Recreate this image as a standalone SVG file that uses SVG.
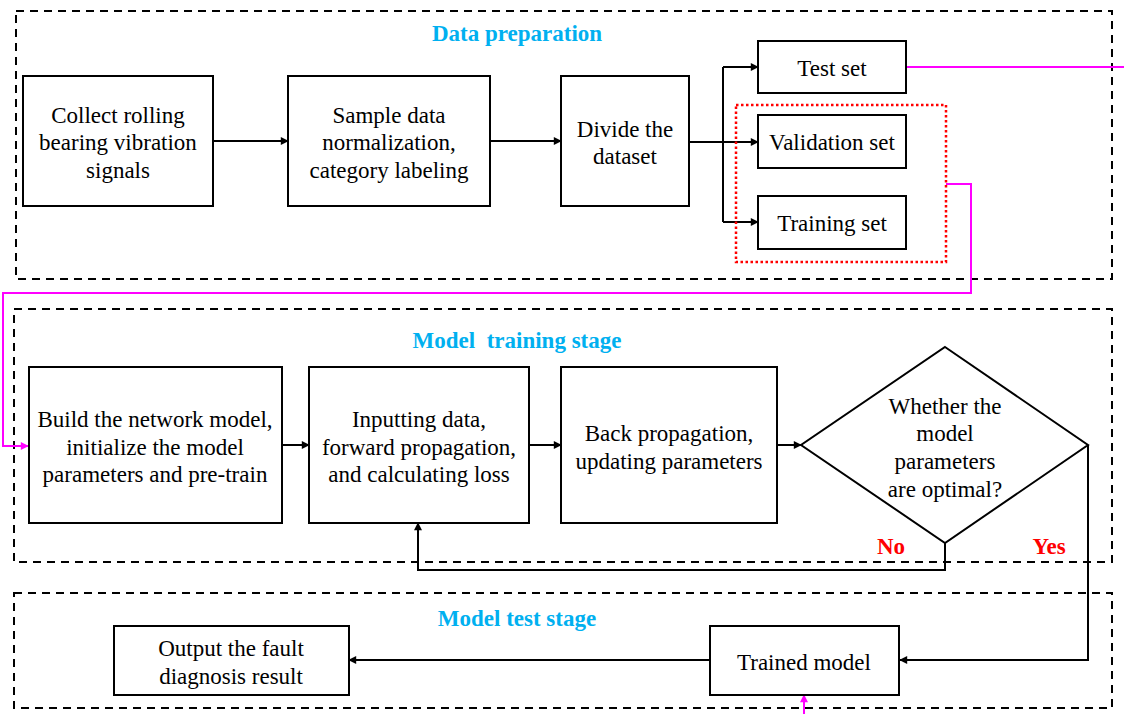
<svg xmlns="http://www.w3.org/2000/svg" width="1124" height="714" viewBox="0 0 1124 714">
<defs>
<marker id="ab" viewBox="0 0 10 10" refX="9" refY="5" markerWidth="9" markerHeight="8" orient="auto" markerUnits="userSpaceOnUse"><path d="M0,0 L10,5 L0,10 z" fill="#000"/></marker>
<marker id="am" viewBox="0 0 10 10" refX="9" refY="5" markerWidth="9" markerHeight="8" orient="auto" markerUnits="userSpaceOnUse"><path d="M0,0 L10,5 L0,10 z" fill="#ff00ff"/></marker>
</defs>
<style>
.stage{fill:none;stroke:#000;stroke-width:2;stroke-dasharray:8 6}
.box{fill:#fff;stroke:#000;stroke-width:2}
text{font-family:'Liberation Serif','Times New Roman',serif;font-size:23px;text-anchor:middle}
.t{fill:#000}
.title{font-weight:bold;fill:#00b0f0}
.lbl{font-weight:bold;fill:#ff0000}
.c{fill:none;stroke:#000;stroke-width:2}
.m{fill:none;stroke:#ff00ff;stroke-width:2}
</style>
<rect width="1124" height="714" fill="#fff"/>
<g id="stages">
<rect class="stage" x="16" y="11" width="1096" height="268"/>
<rect class="stage" x="14" y="309" width="1098" height="253"/>
<rect class="stage" x="14" y="593" width="1098" height="115"/>
<text class="title" x="517" y="41">Data preparation</text>
<text class="title" x="517" y="348" xml:space="preserve">Model  training stage</text>
<text class="title" x="517" y="626">Model test stage</text>
</g>
<g id="connectors">
<path class="c" d="M213,141 H288" marker-end="url(#ab)"/>
<path class="c" d="M490,141 H561" marker-end="url(#ab)"/>
<path class="c" d="M689,142 H758" marker-end="url(#ab)"/>
<path class="c" d="M723,67 V222"/>
<path class="c" d="M723,67 H758" marker-end="url(#ab)"/>
<path class="c" d="M723,222 H758" marker-end="url(#ab)"/>
<path class="m" d="M906,67 H1124"/>
<path class="m" d="M946,184 H971 V293 H3 V446 H28" marker-end="url(#am)"/>
<path class="c" d="M282,445 H309" marker-end="url(#ab)"/>
<path class="c" d="M529,445 H561" marker-end="url(#ab)"/>
<path class="c" d="M777,445 H801" marker-end="url(#ab)"/>
<path class="c" d="M945,543 V570 H418 V523" marker-end="url(#ab)"/>
<path class="c" d="M1088,445 V660 H900" marker-end="url(#ab)"/>
<path class="c" d="M710,660 H349" marker-end="url(#ab)"/>
<path class="m" d="M804,714 V695" marker-end="url(#am)"/>
<text class="lbl" x="891" y="554">No</text>
<text class="lbl" x="1049" y="554">Yes</text>
</g>
<g id="split-group">
<rect x="736" y="105" width="210" height="157" fill="none" stroke="#ff0000" stroke-width="2.5" stroke-dasharray="2.5 2.5"/>
</g>
<g id="collect">
<rect class="box" x="23" y="76" width="190" height="130"/>
<text class="t" x="118" y="123">Collect rolling</text>
<text class="t" x="118" y="150">bearing vibration</text>
<text class="t" x="118" y="178">signals</text>
</g>
<g id="normalize">
<rect class="box" x="288" y="76" width="202" height="130"/>
<text class="t" x="389" y="123">Sample data</text>
<text class="t" x="389" y="150">normalization,</text>
<text class="t" x="389" y="178">category labeling</text>
</g>
<g id="divide">
<rect class="box" x="561" y="76" width="128" height="130"/>
<text class="t" x="625" y="137">Divide the</text>
<text class="t" x="625" y="164">dataset</text>
</g>
<g id="test-set">
<rect class="box" x="758" y="41" width="148" height="52"/>
<text class="t" x="832" y="76">Test set</text>
</g>
<g id="validation-set">
<rect class="box" x="758" y="115" width="148" height="53"/>
<text class="t" x="832" y="150">Validation set</text>
</g>
<g id="training-set">
<rect class="box" x="758" y="196" width="148" height="53"/>
<text class="t" x="832" y="231">Training set</text>
</g>
<g id="build">
<rect class="box" x="29" y="367" width="253" height="156"/>
<text class="t" x="155" y="427">Build the network model,</text>
<text class="t" x="155" y="455">initialize the model</text>
<text class="t" x="155" y="482">parameters and pre-train</text>
</g>
<g id="inputting">
<rect class="box" x="309" y="367" width="220" height="156"/>
<text class="t" x="419" y="427">Inputting data,</text>
<text class="t" x="419" y="455">forward propagation,</text>
<text class="t" x="419" y="482">and calculating loss</text>
</g>
<g id="backprop">
<rect class="box" x="561" y="367" width="216" height="156"/>
<text class="t" x="669" y="441">Back propagation,</text>
<text class="t" x="669" y="469">updating parameters</text>
</g>
<g id="decision">
<path class="box" d="M945,347 L1088,445 L945,543 L801,445 Z"/>
<text class="t" x="945" y="414">Whether the</text>
<text class="t" x="945" y="441">model</text>
<text class="t" x="945" y="469">parameters</text>
<text class="t" x="945" y="497">are optimal?</text>
</g>
<g id="output">
<rect class="box" x="114" y="626" width="235" height="69"/>
<text class="t" x="231" y="656">Output the fault</text>
<text class="t" x="231" y="684">diagnosis result</text>
</g>
<g id="trained">
<rect class="box" x="710" y="626" width="189" height="69"/>
<text class="t" x="804" y="670">Trained model</text>
</g>
</svg>
